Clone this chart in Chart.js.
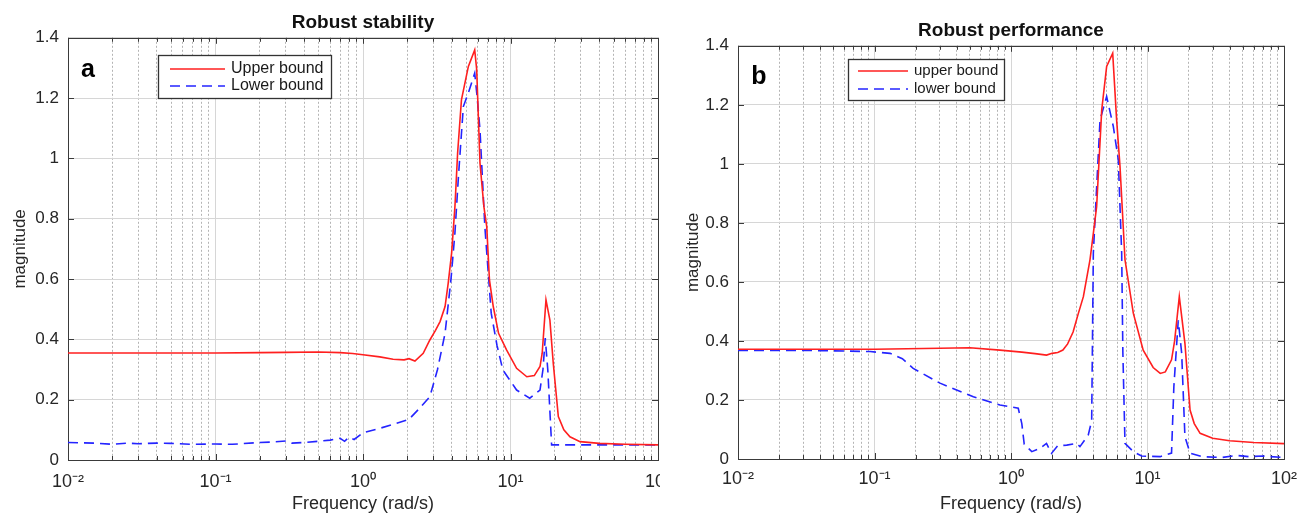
<!DOCTYPE html>
<html>
<head>
<meta charset="utf-8">
<script src="https://cdn.jsdelivr.net/npm/chart.js@4"></script>
<style>
  body { margin: 0; background: #fff; }
  .panel { position: absolute; top: 0; height: 515px; overflow: hidden; }
</style>
</head>
<body>
<div class="panel" style="left:0;width:660px"><canvas id="chart-a" width="700" height="515"></canvas></div>
<div class="panel" style="left:660px;width:639px"><canvas id="chart-b" width="639" height="515"></canvas></div>
<script>
// x axis (log), major tick values and their labels
const xTickValues = [0.01, 0.1, 1, 10, 100];
const xTickLabels = ['10⁻²', '10⁻¹', '10⁰', '10¹', '10²'];
const minorSteps = [2, 3, 4, 5, 6, 7, 8, 9];

// panel a - robust stability
const aUpperFreq = [0.01, 0.02, 0.05, 0.1, 0.2, 0.3, 0.5, 0.7, 0.85, 1.0, 1.3, 1.6, 1.9, 2.05, 2.25, 2.56, 2.84, 3.1, 3.33, 3.6, 3.78, 3.99, 4.2, 4.38, 4.65, 5.18, 5.72, 5.9, 6.21, 6.6, 6.9, 7.2, 7.64, 8.3, 9.4, 11.0, 12.9, 14.5, 15.85, 16.4, 17.4, 18.5, 19.5, 21.1, 23, 25.3, 29.6, 40, 60, 100];
const aUpperMag = [0.355, 0.355, 0.355, 0.355, 0.356, 0.357, 0.358, 0.356, 0.353, 0.349, 0.342, 0.334, 0.332, 0.336, 0.328, 0.354, 0.398, 0.43, 0.459, 0.509, 0.586, 0.687, 0.84, 1.018, 1.194, 1.305, 1.36, 1.294, 0.985, 0.84, 0.774, 0.597, 0.509, 0.42, 0.365, 0.304, 0.276, 0.28, 0.31, 0.354, 0.531, 0.464, 0.32, 0.144, 0.1, 0.077, 0.061, 0.055, 0.052, 0.05];
const aLowerFreq = [0.01, 0.015, 0.02, 0.025, 0.03, 0.04, 0.05, 0.07, 0.1, 0.13, 0.2, 0.25, 0.3, 0.33, 0.4, 0.5, 0.6, 0.7, 0.75, 0.8, 0.87, 1.0, 1.3, 1.6, 2.05, 2.4, 2.84, 3.2, 3.6, 3.95, 4.2, 4.45, 4.79, 5.2, 5.72, 5.95, 6.21, 6.7, 7.4, 8.1, 8.87, 11.0, 13.5, 15.85, 16.6, 17.2, 17.9, 19.0, 30, 100];
const aLowerMag = [0.058, 0.056, 0.052, 0.056, 0.054, 0.056, 0.055, 0.052, 0.053, 0.052, 0.058, 0.06, 0.063, 0.056, 0.058, 0.062, 0.066, 0.072, 0.062, 0.075, 0.068, 0.09, 0.105, 0.118, 0.135, 0.17, 0.21, 0.3, 0.42, 0.6, 0.753, 0.95, 1.172, 1.22, 1.283, 1.2, 1.095, 0.774, 0.487, 0.38, 0.299, 0.232, 0.205, 0.232, 0.3, 0.404, 0.299, 0.05, 0.05, 0.05];

// panel b - robust performance
const bUpperFreq = [0.01, 0.03, 0.1, 0.3, 0.5, 0.83, 1.2, 1.5, 1.82, 2.0, 2.2, 2.4, 2.6, 2.85, 3.1, 3.39, 3.79, 4.0, 4.24, 4.62, 5.02, 5.56, 5.94, 6.29, 6.84, 7.87, 9.3, 11.0, 12.4, 13.5, 15.0, 15.8, 17.1, 18.8, 20.5, 22, 24.3, 30, 40, 60, 100];
const bUpperMag = [0.372, 0.372, 0.372, 0.375, 0.377, 0.369, 0.362, 0.357, 0.352, 0.358, 0.361, 0.369, 0.39, 0.43, 0.49, 0.55, 0.675, 0.76, 0.855, 1.183, 1.33, 1.375, 1.149, 0.991, 0.675, 0.494, 0.369, 0.31, 0.29, 0.295, 0.336, 0.4, 0.55, 0.392, 0.166, 0.12, 0.087, 0.07, 0.062, 0.056, 0.052];
const bLowerFreq = [0.01, 0.03, 0.06, 0.093, 0.13, 0.16, 0.192, 0.302, 0.53, 0.83, 1.13, 1.2, 1.25, 1.42, 1.63, 1.82, 1.98, 2.2, 2.56, 3.03, 3.2, 3.68, 3.9, 4.01, 4.49, 5.02, 5.62, 6.11, 6.47, 6.6, 6.84, 7.87, 9.06, 12.4, 15.0, 15.6, 16.8, 17.8, 18.8, 20.5, 25, 35, 45, 55, 70, 100];
const bLowerMag = [0.368, 0.368, 0.366, 0.364, 0.358, 0.34, 0.307, 0.257, 0.211, 0.183, 0.172, 0.12, 0.05, 0.025, 0.036, 0.053, 0.019, 0.045, 0.047, 0.053, 0.042, 0.081, 0.13, 0.697, 1.149, 1.228, 1.126, 1.014, 0.697, 0.36, 0.053, 0.025, 0.01, 0.008, 0.02, 0.245, 0.47, 0.358, 0.076, 0.02, 0.008, 0.005, 0.012, 0.008, 0.01, 0.005];

const FONT = "'Liberation Sans', Arial, sans-serif";
Chart.defaults.font.family = FONT;
const RED = '#ff1f1f';
const BLUE = '#2424ff';

function toPoints(freq, mag) {
    return freq.map((f, i) => ({x: f, y: mag[i]}));
}

function logTicks() {
    let ticks = [];
    xTickValues.forEach((v, i) => {
        ticks.push({value: v, major: true});
        if (i < xTickValues.length - 1) {
            minorSteps.forEach(m => ticks.push({value: v * m, major: false}));
        }
    });
    return ticks;
}

// matlab style box, inward ticks, legend and panel letter
const framePlugin = {
    id: 'frame',
    beforeDatasetsDraw(chart, args, opts) {
        const ctx = chart.ctx;
        const a = chart.chartArea;
        const xs = chart.scales.x, ys = chart.scales.y;
        ctx.save();
        ctx.strokeStyle = '#3a3a3a';
        ctx.lineWidth = 1;
        ctx.beginPath();
        xs.ticks.forEach(t => {
            const px = Math.round(xs.getPixelForValue(t.value)) + 0.5;
            const len = t.major ? 6 : 4;
            ctx.moveTo(px, a.bottom); ctx.lineTo(px, a.bottom - len);
            ctx.moveTo(px, a.top); ctx.lineTo(px, a.top + len);
        });
        ys.ticks.forEach(t => {
            const py = Math.round(ys.getPixelForValue(t.value)) + 0.5;
            ctx.moveTo(a.left, py); ctx.lineTo(a.left + 6, py);
            ctx.moveTo(a.right, py); ctx.lineTo(a.right - 6, py);
        });
        ctx.stroke();
        ctx.strokeRect(Math.round(a.left) + 0.5, Math.round(a.top) + 0.5, Math.round(a.right - a.left), Math.round(a.bottom - a.top));
        ctx.restore();
    },
    afterDatasetsDraw(chart, args, opts) {
        const ctx = chart.ctx;
        const lg = opts.legend;
        ctx.save();
        ctx.fillStyle = '#fff';
        ctx.fillRect(lg.x, lg.y, lg.w, lg.h);
        ctx.strokeStyle = '#333';
        ctx.lineWidth = 1.3;
        ctx.strokeRect(lg.x + 0.5, lg.y + 0.5, lg.w, lg.h);
        chart.data.datasets.forEach((ds, i) => {
            const yy = lg.y + lg.row0 + i * lg.rowGap;
            ctx.strokeStyle = ds.borderColor;
            ctx.lineWidth = ds.borderWidth;
            ctx.setLineDash(ds.borderDash || []);
            ctx.beginPath();
            ctx.moveTo(lg.x + lg.lineX, yy);
            ctx.lineTo(lg.x + lg.lineX + lg.lineLen, yy);
            ctx.stroke();
            ctx.setLineDash([]);
            ctx.fillStyle = '#1a1a1a';
            ctx.font = lg.fontSize + 'px ' + FONT;
            ctx.textBaseline = 'middle';
            ctx.textAlign = 'left';
            ctx.fillText(ds.label, lg.x + lg.textX, yy);
        });
        ctx.font = 'bold 25px ' + FONT;
        ctx.fillStyle = '#000';
        ctx.textAlign = 'center';
        ctx.textBaseline = 'middle';
        ctx.fillText(opts.letter, opts.letterX, opts.letterY);
        ctx.restore();
    }
};

function makePanel(canvasId, p) {
    return new Chart(document.getElementById(canvasId), {
        type: 'line',
        data: {
            datasets: [{
                label: p.upperLabel,
                data: toPoints(p.upperFreq, p.upperMag),
                borderColor: RED,
                backgroundColor: RED,
                borderWidth: 1.6,
                pointRadius: 0,
                tension: 0
            },
            {
                label: p.lowerLabel,
                data: toPoints(p.lowerFreq, p.lowerMag),
                borderColor: BLUE,
                backgroundColor: BLUE,
                borderWidth: 1.6,
                borderDash: [10, 6],
                pointRadius: 0,
                tension: 0
            }]
        },
        options: {
            responsive: false,
            animation: false,
            layout: {padding: {left: 0, right: p.padRight, top: 0, bottom: 0}},
            plugins: {
                legend: {display: false},
                tooltip: {enabled: false},
                title: {
                    display: true,
                    text: p.title,
                    fullSize: false,
                    color: '#111',
                    font: {size: 19, weight: 'bold'},
                    padding: {top: p.titleTop, bottom: p.titleBottom}
                },
                frame: p.frame
            },
            scales: {
                x: {
                    type: 'logarithmic',
                    min: 0.01,
                    max: 100,
                    afterBuildTicks: scale => { scale.ticks = logTicks(); },
                    afterFit: scale => {
                        scale.height = p.xHeight;
                        // let the end labels hang over, the layout padding decides the edges
                        scale.paddingLeft = 0;
                        scale.paddingRight = 0;
                    },
                    ticks: {
                        autoSkip: false,
                        maxRotation: 0,
                        padding: p.xTickPad,
                        color: '#262626',
                        font: {size: 18},
                        callback: v => {
                            const k = xTickValues.findIndex(t => Math.abs(t - v) < 1e-9);
                            return k >= 0 ? xTickLabels[k] : '';
                        }
                    },
                    grid: {
                        drawTicks: false,
                        color: ctx => (ctx.tick && !ctx.tick.major) ? '#b4b4b4' : '#d6d6d6'
                    },
                    border: {
                        display: false,
                        dash: ctx => (ctx.tick && !ctx.tick.major) ? [2, 2] : []
                    },
                    title: {
                        display: true,
                        text: 'Frequency (rad/s)',
                        color: '#262626',
                        font: {size: 18},
                        padding: {top: 0, bottom: 0}
                    }
                },
                y: {
                    min: 0,
                    max: 1.4,
                    afterFit: scale => { scale.width = p.yWidth; },
                    ticks: {
                        stepSize: 0.2,
                        padding: 9,
                        color: '#262626',
                        font: {size: 17},
                        callback: v => String(Math.round(v * 10) / 10)
                    },
                    grid: {drawTicks: false, color: '#d6d6d6'},
                    border: {display: false},
                    title: {
                        display: true,
                        text: 'magnitude',
                        color: '#262626',
                        font: {size: 17},
                        padding: {top: p.yTitlePad, bottom: 0}
                    }
                }
            }
        },
        plugins: [framePlugin]
    });
}

makePanel('chart-a', {
    title: 'Robust stability',
    upperLabel: 'Upper bound', lowerLabel: 'Lower bound',
    upperFreq: aUpperFreq, upperMag: aUpperMag,
    lowerFreq: aLowerFreq, lowerMag: aLowerMag,
    padRight: 42, titleTop: 11, titleBottom: 4, xHeight: 55, yWidth: 68, yTitlePad: 10, xTickPad: 11,
    frame: {
        letter: 'a', letterX: 88, letterY: 70,
        legend: {x: 158, y: 55, w: 173, h: 43, row0: 14, rowGap: 17, lineX: 12, lineLen: 55, textX: 73, fontSize: 16}
    }
});

makePanel('chart-b', {
    title: 'Robust performance',
    upperLabel: 'upper bound', lowerLabel: 'lower bound',
    upperFreq: bUpperFreq, upperMag: bUpperMag,
    lowerFreq: bLowerFreq, lowerMag: bLowerMag,
    padRight: 15, titleTop: 19, titleBottom: 4, xHeight: 56, yWidth: 78, yTitlePad: 23, xTickPad: 9,
    frame: {
        letter: 'b', letterX: 99, letterY: 77,
        legend: {x: 188, y: 59, w: 156, h: 41, row0: 12, rowGap: 18, lineX: 10, lineLen: 50, textX: 66, fontSize: 15}
    }
});
</script>
</body>
</html>
